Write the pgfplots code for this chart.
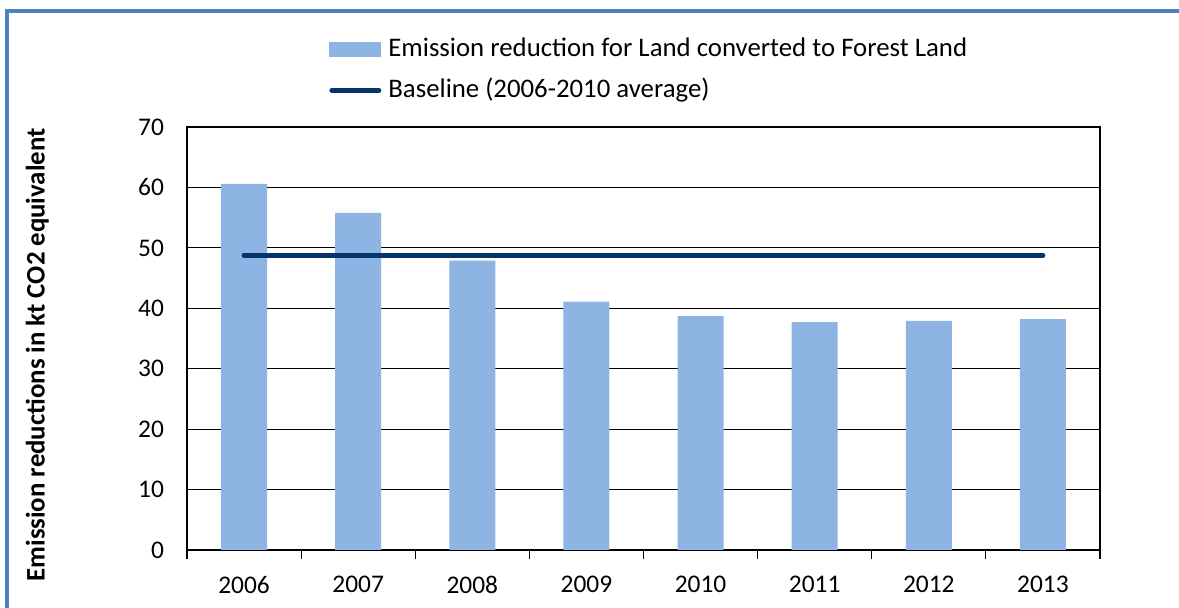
\documentclass[border=0pt]{standalone}
\usepackage{fontspec}
\setmainfont{Carlito}
\usepackage{pgfplots}
\pgfplotsset{compat=1.18}

\definecolor{barblue}{RGB}{142,180,227}
\definecolor{basenavy}{RGB}{4,52,104}
\definecolor{framecol}{RGB}{79,129,189}
\newcommand{\fs}{\fontsize{12.7bp}{15bp}\selectfont}
\newcommand{\fl}{\fontsize{13.4bp}{16bp}\selectfont}

\begin{document}
\begin{tikzpicture}
% 1 px of the reference = 0.5bp
\useasboundingbox (0,0) rectangle (589.5bp,304bp);
\draw[framecol, line width=2bp] (3.5bp,0) -- (3.5bp,298.25bp) -- (600bp,298.25bp);
\begin{axis}[
    at={(93.5bp,29bp)}, anchor=south west,
    scale only axis,
    width=456.5bp, height=211.5bp,
    xmin=-0.5, xmax=7.5,
    ymin=0, ymax=70,
    ytick={0,10,...,70},
    xtick={0,...,7},
    xticklabels={2006,2007,2008,2009,2010,2011,2012,2013},
    minor xtick={-0.5,0.5,...,7.5},
    xtick pos=bottom, ytick pos=left,
    major tick length=0pt,
    minor tick length=4.5bp,
    tick align=outside,
    tick style={black, line width=0.6bp},
    ymajorgrids,
    grid style={black, line width=0.5bp},
    axis line style={black, line width=1bp},
    /pgf/number format/assume math mode=true,
    tick label style={font=\fs},
    xticklabel style={yshift=-9.5bp},
    yticklabel style={xshift=-8bp},
    ylabel={\bfseries Emission reductions in kt CO2 equivalent},
    ylabel style={font=\fl, at={(axis description cs:-0.164,0.461)}, anchor=center},
    legend cell align=left,
    legend style={draw=none, fill=none, inner sep=0pt,
        at={(axis description cs:0.1555,1.215)}, anchor=north west,
        font=\fl, row sep=7.5bp,
        nodes={inner sep=0pt, text height=10bp, text depth=3bp},
        /tikz/every odd column/.style={column sep=3.5bp}},
]
\addplot[ybar, bar width=23bp, fill=barblue, draw=none,
    legend image code/.code={\fill[barblue] (0bp,-3.75bp) rectangle (26bp,3.75bp);}]
    coordinates {(0,60.6) (1,55.8) (2,47.9) (3,41.1) (4,38.7) (5,37.7) (6,37.9) (7,38.2)};
\addlegendentry{Emission reduction for Land converted to Forest Land}
\addplot[basenavy, line width=2.5bp, line cap=round, mark=none,
    legend image code/.code={\draw[basenavy, line width=2.5bp, line cap=round] (1.25bp,0) -- (24.75bp,0);}]
    coordinates {(0,48.8) (7,48.8)};
\addlegendentry{Baseline (2006-2010 average)}
\end{axis}
\end{tikzpicture}
\end{document}
